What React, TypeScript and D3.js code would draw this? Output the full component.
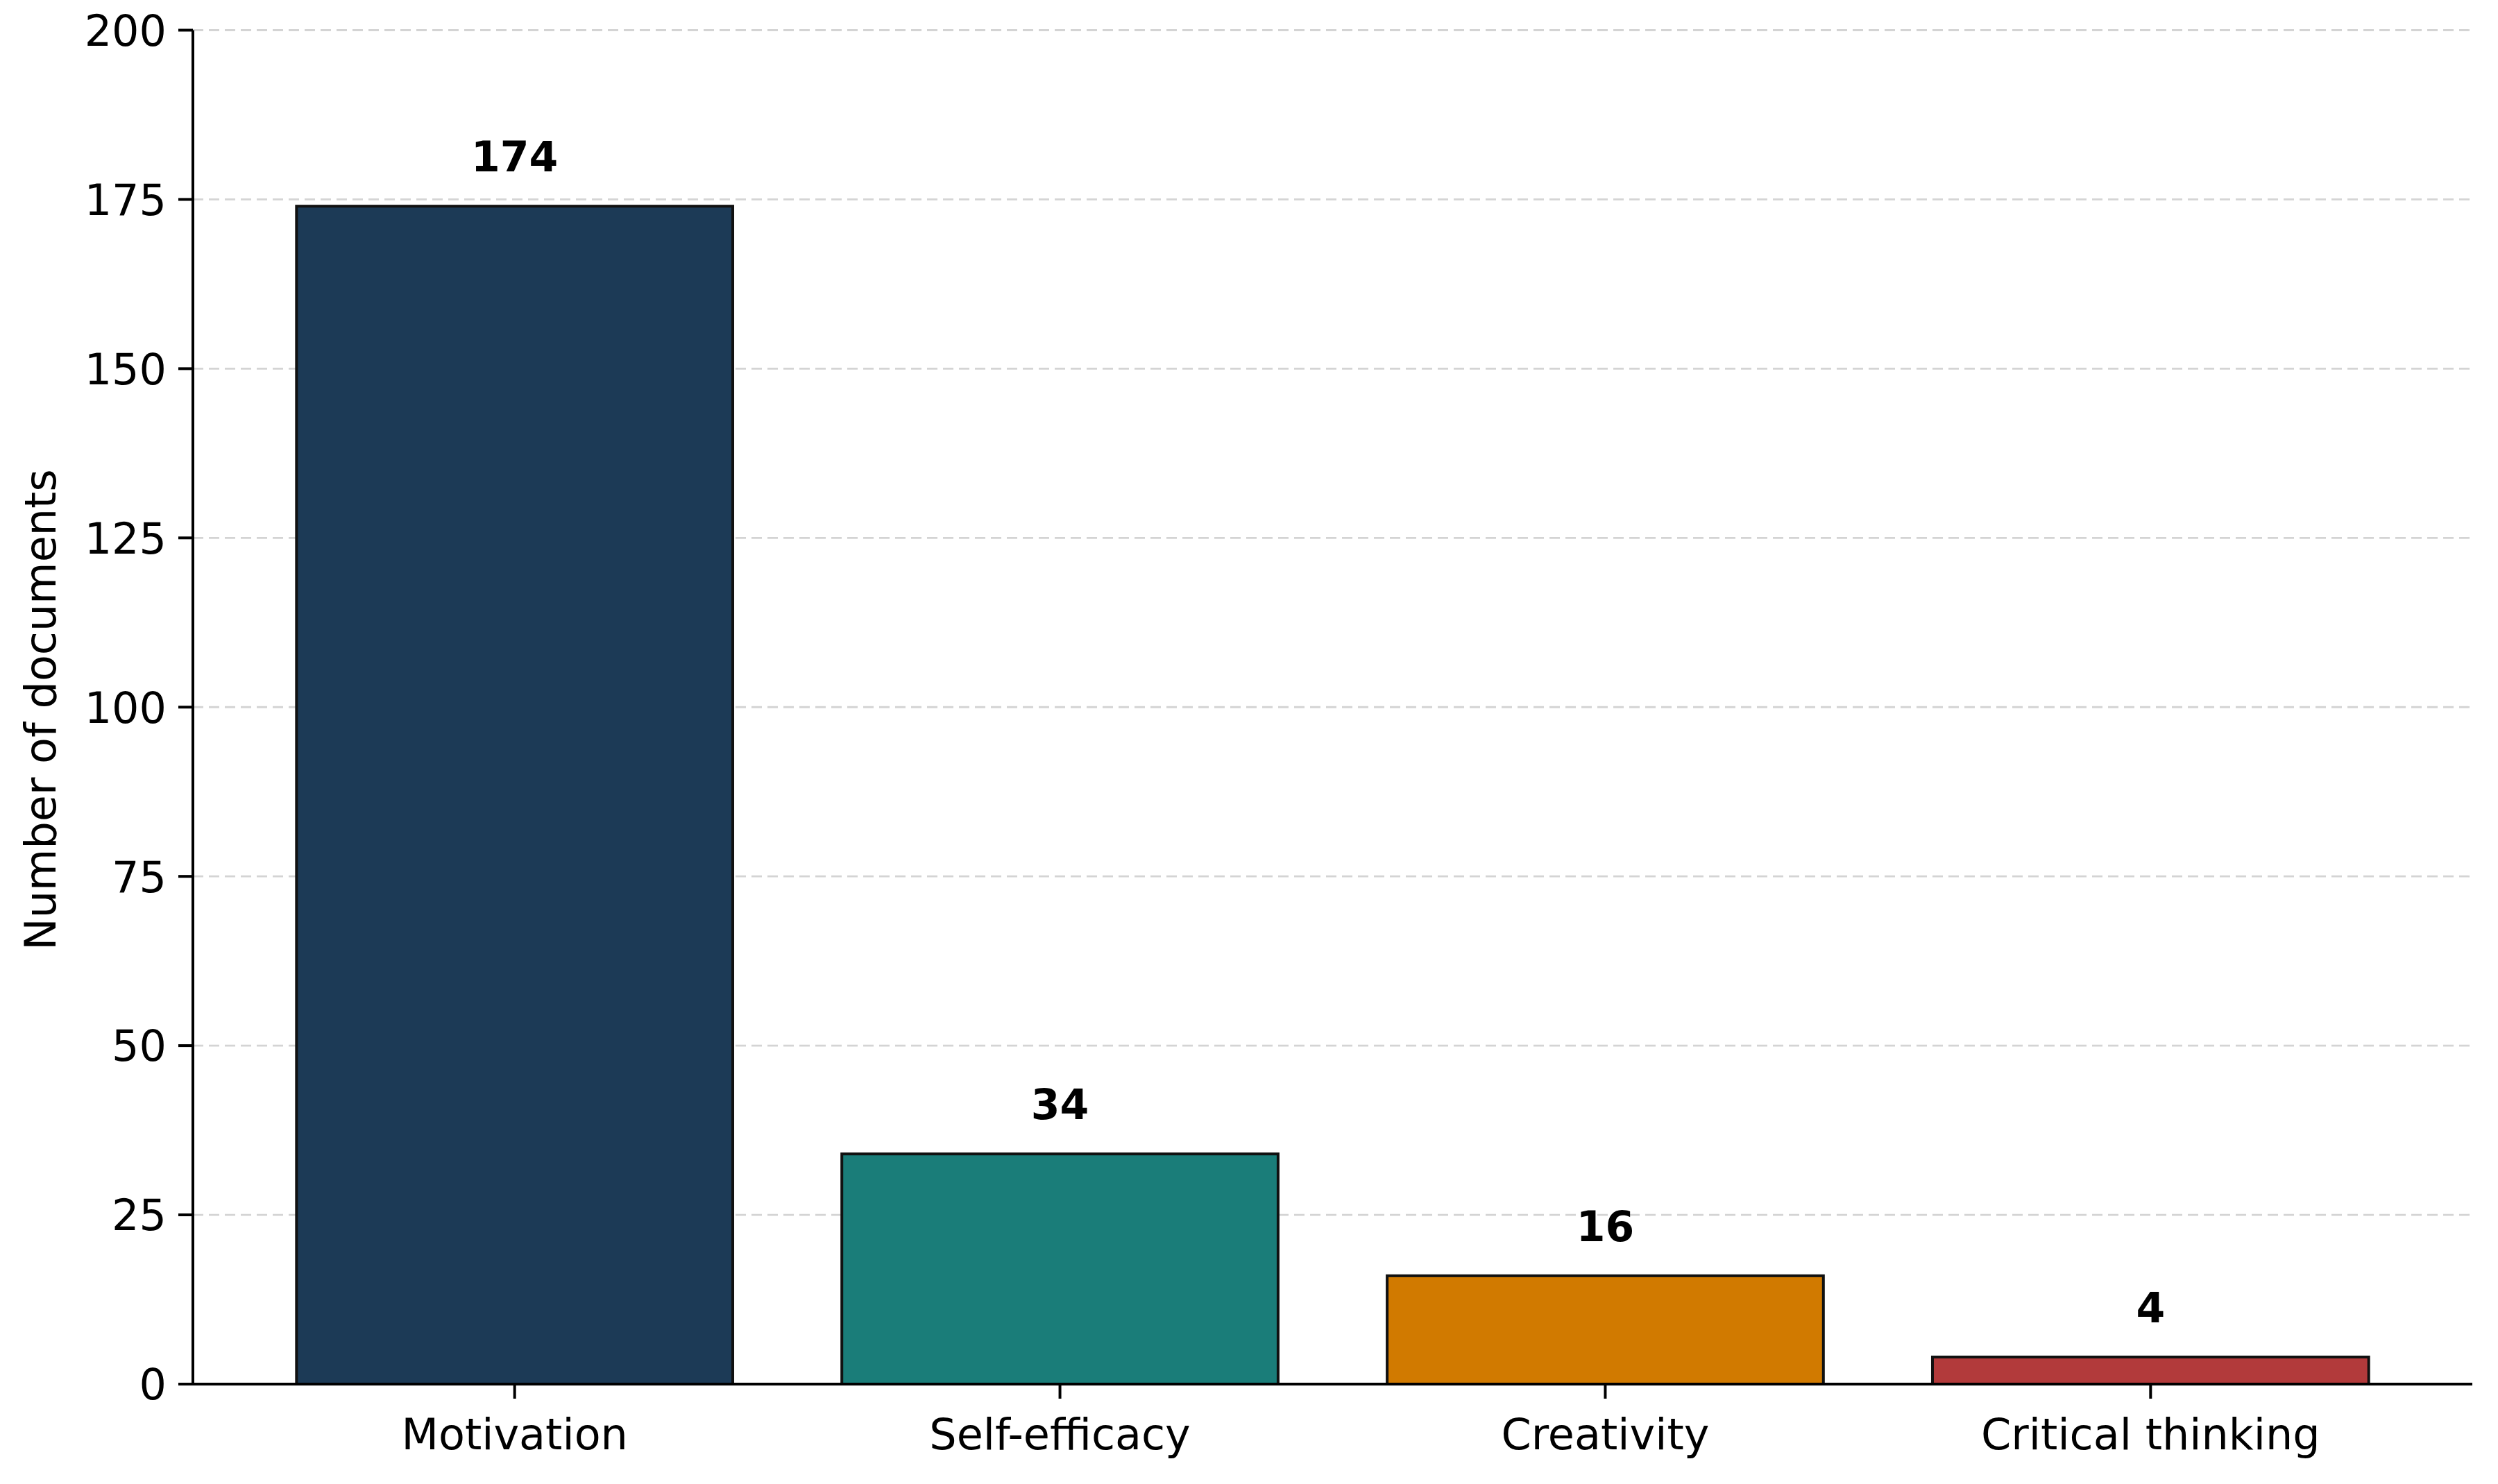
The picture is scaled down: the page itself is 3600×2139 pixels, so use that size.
import React, { useEffect } from "react";
import * as d3 from "d3";

const categories = ["Motivation", "Self-efficacy", "Creativity", "Critical thinking"];
const counts = [174, 34, 16, 4];
const barColors = ["#1c3a56", "#1a7d79", "#d17a00", "#b23a3b"];
const yTicks = [0, 25, 50, 75, 100, 125, 150, 175, 200];
const yLabel = "Number of documents";

const W = 3600;
const H = 2139;
const FONT = "DejaVu Sans, Liberation Sans, sans-serif";

export default function App() {
  useEffect(() => {
    document.body.style.margin = "0";
  }, []);

  const x = d3.scaleLinear().domain([-0.59, 3.59]).range([278, 3563]);
  const y = d3.scaleLinear().domain([0, 200]).range([1995, 43.5]);
  const barW = x(0.8) - x(0);

  return (
    <svg width={W} height={H} style={{ display: "block", background: "#fff" }}>
      {yTicks.filter((t) => t > 0).map((t) => (
        <line key={"g" + t} x1={x(-0.59)} x2={x(3.59)} y1={y(t)} y2={y(t)}
          stroke="#d4d4d4" strokeWidth={2.8} strokeDasharray="15 8" />
      ))}
      {counts.map((v, i) => (
        <rect key={"b" + i} x={x(i) - barW / 2} y={y(v)} width={barW} height={y(0) - y(v)}
          fill={barColors[i]} stroke="#111" strokeWidth={4} />
      ))}
      {counts.map((v, i) => (
        <text key={"v" + i} x={x(i)} y={y(v) - 50} textAnchor="middle"
          fontFamily={FONT} fontWeight="bold" fontSize={60} fill="#000">{v}</text>
      ))}
      <line x1={278} x2={278} y1={y(200)} y2={y(0)} stroke="#000" strokeWidth={4} />
      <line x1={x(-0.59)} x2={x(3.59)} y1={y(0)} y2={y(0)} stroke="#000" strokeWidth={4} />
      {yTicks.map((t) => (
        <g key={"yt" + t}>
          <line x1={257} x2={278} y1={y(t)} y2={y(t)} stroke="#000" strokeWidth={4} />
          <text x={240} y={y(t)} dy="0.36em" textAnchor="end" fontFamily={FONT} fontSize={62} fill="#000">{t}</text>
        </g>
      ))}
      {categories.map((c, i) => (
        <g key={"xt" + i}>
          <line x1={x(i)} x2={x(i)} y1={y(0)} y2={y(0) + 21} stroke="#000" strokeWidth={4} />
          <text x={x(i)} y={2089} textAnchor="middle" fontFamily={FONT} fontSize={62} fill="#000">{c}</text>
        </g>
      ))}
      <text transform={`translate(${80},${1023}) rotate(-90)`} textAnchor="middle"
        fontFamily={FONT} fontSize={62} fill="#000">{yLabel}</text>
    </svg>
  );
}
